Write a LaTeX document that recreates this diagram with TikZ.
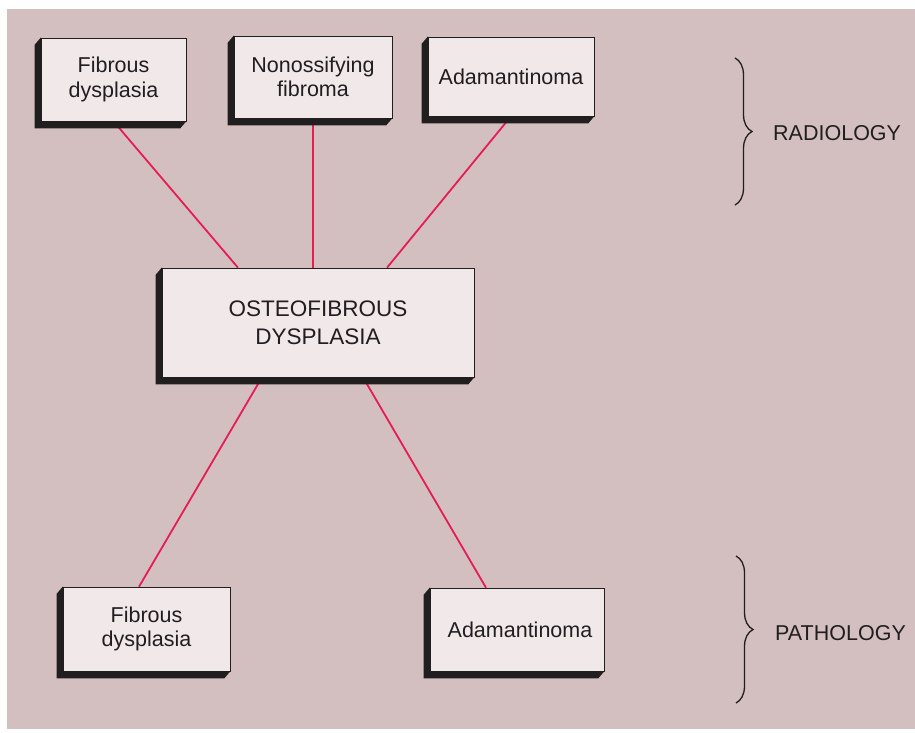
\documentclass[tikz,border=0pt]{standalone}
\usepackage{fontspec}
\setmainfont{Liberation Sans}
\usepackage{xcolor}
\definecolor{rose-200}{RGB}{211,191,192}
\definecolor{rose-50}{RGB}{241,232,233}
\definecolor{ink-900}{RGB}{33,30,31}
\definecolor{crimson-600}{RGB}{230,28,84}
\usetikzlibrary{backgrounds,decorations.pathreplacing}

\begin{document}
\begin{tikzpicture}[
    x=1pt, y=-1pt,
    every node/.style={inner sep=0pt},
    entity/.style={
        draw=ink-900,
        line width=0.6pt,
        fill=rose-50,
        align=center,
        text=ink-900,
        font=\fontsize{21.5}{24.5}\selectfont
    },
    link/.style={crimson-600, line width=1.8pt},
    slab/.style={fill=ink-900},
    bracket/.style={ink-900, line width=1.3pt, decorate, decoration={brace, amplitude=17pt}},
    caption/.style={anchor=west, text=ink-900, font=\fontsize{21.5}{24.5}\selectfont}
]

% Page area
\useasboundingbox (0,0) rectangle (915,732);

% Radiology row
\node[entity, minimum width=145pt, minimum height=83pt] (fd1) at (113.5,79.5) {Fibrous\\dysplasia};
\node[entity, minimum width=158pt, minimum height=82pt] (nof) at (313,77) {Nonossifying\\fibroma};
\node[entity, minimum width=166pt, minimum height=79pt] (ada1) at (511,76.5) {Adamantinoma};

% Central entity
\node[entity, minimum width=312pt, minimum height=109pt, font=\fontsize{22.5}{28}\selectfont] (core) at (318,322.5) {OSTEOFIBROUS\\DYSPLASIA};

% Pathology row
\node[entity, minimum width=167pt, minimum height=84pt] (fd2) at (146.5,629) {Fibrous\\dysplasia};
\node[entity, minimum width=174pt, minimum height=83pt] (ada2) at (517,629.5) {\hspace*{6pt}Adamantinoma};

% Group labels
\draw[bracket] (735,58) -- (735,205);
\node[caption] (radiology) at (773,133) {RADIOLOGY};
\draw[bracket] (736,556) -- (736,703);
\node[caption] (pathology) at (775,633) {PATHOLOGY};

\begin{pgfonlayer}{background}
    % Backdrop
    \fill[white] (0,0) rectangle (915,732);
    \fill[rose-200] (7,9) rectangle (915,729);

    % Connectors
    \draw[link] (fd1.south) -- ([xshift=-80pt]core.north);
    \draw[link] (nof.south) -- ([xshift=-5pt]core.north);
    \draw[link] (ada1.south) -- ([xshift=69pt]core.north);
    \draw[link] ([xshift=-56pt]core.south) -- ([xshift=-7.5pt]fd2.north);
    \draw[link] ([xshift=45pt]core.south) -- ([xshift=-31pt]ada2.north);

    % Box depth
    \foreach \n in {fd1,nof,ada1,core,fd2,ada2}
        \fill[slab] (\n.north west) -- ([shift={(-6,7)}]\n.north west)
            -- ([shift={(-6,7)}]\n.south west) -- ([shift={(-6,7)}]\n.south east)
            -- (\n.south east) -- cycle;
\end{pgfonlayer}

\end{tikzpicture}
\end{document}
